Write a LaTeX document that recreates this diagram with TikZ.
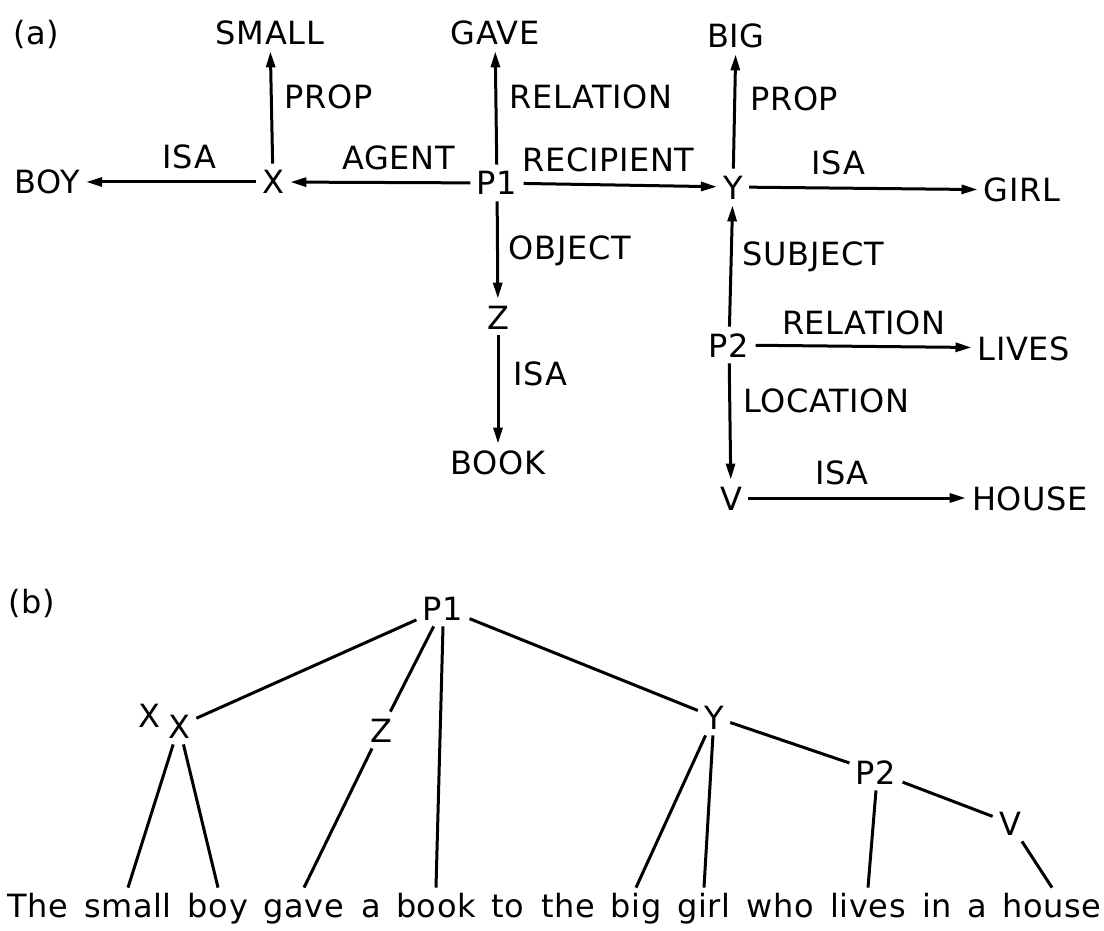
\documentclass[tikz,border=0pt]{standalone}
\usepackage{fontspec}
\setmainfont[LetterSpace=2]{DejaVu Sans}
\usetikzlibrary{arrows.meta,positioning}
\begin{document}
\begin{tikzpicture}[x=0.5pt,y=-0.5pt,>={Triangle[length=8pt,width=4.5pt]},
  font=\fontsize{16pt}{20pt}\selectfont,
  concept/.style={inner sep=3pt,text height=12pt,text depth=0pt},
  rel/.style={inner sep=1pt,text height=12pt,text depth=0pt},
  arc/.style={->,line width=1.5pt},
  branch/.style={line width=1.5pt},
  word/.style={anchor=base,inner sep=2pt,text height=12.5pt,text depth=0pt}]
\useasboundingbox (0,0) rectangle (1104,931);
\node[concept] (parta) at (36,33) {(a)};
\node[concept] (small) at (270,33) {SMALL};
\node[concept] (gave) at (495,33) {GAVE};
\node[concept] (big) at (736,36) {BIG};
\node[concept] (boy) at (47,182) {BOY};
\node[concept] (x) at (273,182) {X};
\node[concept] (p1) at (497,183) {P1};
\node[concept] (y) at (733,187) {Y};
\node[concept] (girl) at (1022,190) {GIRL};
\node[concept] (z) at (498,317) {Z};
\node[concept] (book) at (498,462) {BOOK};
\node[concept] (p2) at (729,345) {P2};
\node[concept] (lives) at (1024,348) {LIVES};
\node[concept] (v) at (731,498) {V};
\node[concept] (house) at (1030,498) {HOUSE};
\draw[arc] (x) -- node[rel,pos=0.6,right=5pt] {PROP} (small);
\draw[arc] (x) -- node[rel,pos=0.39,above=5pt] {ISA} (boy);
\draw[arc] (p1) -- node[rel,pos=0.4,above=5pt] {AGENT} (x);
\draw[arc] (p1) -- node[rel,pos=0.6,right=5pt] {RELATION} (gave);
\draw[arc] (p1) -- node[rel,pos=0.44,above=5pt] {RECIPIENT} (y);
\draw[arc] (p1) -- node[rel,pos=0.47,right=4pt] {OBJECT} (z);
\draw[arc] (y) -- node[rel,pos=0.61,right=6pt] {PROP} (big);
\draw[arc] (y) -- node[rel,pos=0.39,above=5pt] {ISA} (girl);
\draw[arc] (z) -- node[rel,pos=0.35,right=6pt] {ISA} (book);
\draw[arc] (p2) -- node[rel,pos=0.6,right=4pt] {SUBJECT} (y);
\draw[arc] (p2) -- node[rel,pos=0.5,above=4pt] {RELATION} (lives);
\draw[arc] (p2) -- node[rel,pos=0.32,right=5pt] {LOCATION} (v);
\draw[arc] (v) -- node[rel,pos=0.43,above=5pt] {ISA} (house);
\node[concept] (partb) at (32,601) {(b)};
\node[concept] (tp1) at (443,608) {P1};
\node[concept] (txa) at (149,715) {X};
\node[concept] (tx) at (179,726) {X};
\node[concept] (tz) at (381,730) {Z};
\node[concept] (ty) at (714,717) {Y};
\node[concept] (tp2) at (876,772) {P2};
\node[concept] (tv) at (1010,823) {V};
\node[word] (wthe) at (38,917) {The};
\node[word] (wsmall) at (128,917) {small};
\node[word] (wboy) at (218,917) {boy};
\node[word] (wgave) at (304,917) {gave};
\node[word] (wa) at (371,917) {a};
\node[word] (wbook) at (436,917) {book};
\node[word] (wto) at (508,917) {to};
\node[word] (wthetwo) at (568,917) {the};
\node[word] (wbig) at (636,917) {big};
\node[word] (wgirl) at (704,917) {girl};
\node[word] (wwho) at (780,917) {who};
\node[word] (wlives) at (868,917) {lives};
\node[word] (win) at (937,917) {in};
\node[word] (watwo) at (977,917) {a};
\node[word] (whouse) at (1052,917) {house};
\draw[branch] (tp1) -- (tx);
\draw[branch] (tp1) -- (tz);
\draw[branch] (tp1.south) -- (wbook.north);
\draw[branch] (tp1) -- (ty);
\draw[branch] (tx) -- (wsmall.north);
\draw[branch] (tx) -- (wboy.north);
\draw[branch] (tz) -- (wgave.north);
\draw[branch] (ty) -- (wbig.north);
\draw[branch] (ty) -- (wgirl.north);
\draw[branch] (ty) -- (tp2);
\draw[branch] (tp2.south) -- (wlives.north);
\draw[branch] (tp2) -- (tv);
\draw[branch] (tv) -- (whouse.north);
\end{tikzpicture}
\end{document}
